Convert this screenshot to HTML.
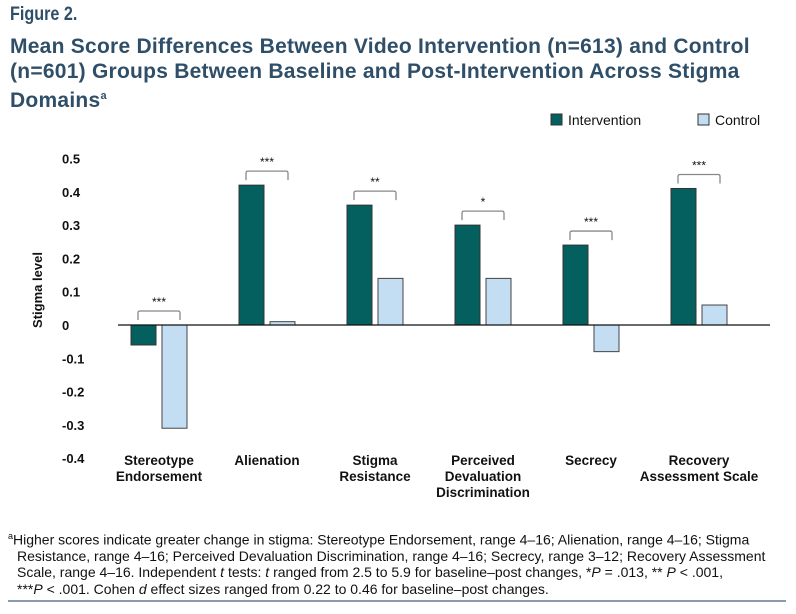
<!DOCTYPE html>
<html><head><meta charset="utf-8">
<style>
body{margin:0;background:#fff;width:796px;height:614px;overflow:hidden;position:relative;font-family:"Liberation Sans",sans-serif}
.fig{position:absolute;left:10px;top:4px;font-family:"Liberation Sans Narrow","Liberation Sans",sans-serif;font-weight:bold;font-size:19px;color:#2f4f69;transform:scaleX(.85);transform-origin:left}
.title{position:absolute;left:10px;top:34px;width:790px;white-space:nowrap;font-weight:bold;font-size:21px;line-height:25px;color:#2f4f69;letter-spacing:.25px}
.title sup{font-size:11px}
.note{position:absolute;left:8px;top:528px;width:900px;font-family:"Liberation Sans Narrow","Liberation Sans",sans-serif;font-size:14px;line-height:16.3px;color:#111;transform:scaleX(1.0);transform-origin:left}
.note div{padding-left:9px}
.rule{position:absolute;left:8px;top:600px;width:778px;height:2px;background:#8a9bb0}
</style></head><body>
<div class="fig">Figure 2.</div>
<div class="title">Mean Score Differences Between Video Intervention (n=613) and Control<br>(n=601) Groups Between Baseline and Post-Intervention Across Stigma<br>Domains<sup>a</sup></div>
<svg id="chart" width="796" height="614" style="position:absolute;left:0;top:0">
<g id="legend">
<rect x="551" y="114" width="11" height="11" fill="#03605f" stroke="#333" stroke-width="1"/>
<text x="568" y="125" font-size="14" fill="#111" font-family="Liberation Sans">Intervention</text>
<rect x="698" y="114" width="11" height="11" fill="#c3def3" stroke="#333" stroke-width="1"/>
<text x="715" y="125" font-size="14" fill="#111" font-family="Liberation Sans">Control</text>
</g>
<text transform="translate(42,290) rotate(-90)" text-anchor="middle" font-size="13" font-weight="bold" fill="#111">Stigma level</text>
</svg>
<div class="note"><sup style="font-size:9px">a</sup>Higher scores indicate greater change in stigma: Stereotype Endorsement, range 4–16; Alienation, range 4–16; Stigma<div>Resistance, range 4–16; Perceived Devaluation Discrimination, range 4–16; Secrecy, range 3–12; Recovery Assessment</div><div>Scale, range 4–16. Independent <i>t</i> tests: <i>t</i> ranged from 2.5 to 5.9 for baseline–post changes, *<i>P</i> = .013, ** <i>P</i> &lt; .001,</div><div>***<i>P</i> &lt; .001. Cohen <i>d</i> effect sizes ranged from 0.22 to 0.46 for baseline–post changes.</div></div>
<div class="rule"></div>
<script>
const categories=[["Stereotype","Endorsement"],["Alienation"],["Stigma","Resistance"],["Perceived","Devaluation","Discrimination"],["Secrecy"],["Recovery","Assessment Scale"]];
const intervention=[-0.06,0.42,0.36,0.30,0.24,0.41];
const control=[-0.31,0.01,0.14,0.14,-0.08,0.06];
const significance=["***","***","**","*","***","***"];
const yTicks=[0.5,0.4,0.3,0.2,0.1,0,-0.1,-0.2,-0.3,-0.4];
const tickLabels=["0.5","0.4","0.3","0.2","0.1","0","-0.1","-0.2","-0.3","-0.4"];
const svg=document.getElementById('chart');
const NS="http://www.w3.org/2000/svg";
function y(v){return 325-v*333;}
function x(i){return 159+i*108;}
function mk(t,a,p){const e=document.createElementNS(NS,t);for(const k in a)e.setAttribute(k,a[k]);(p||svg).appendChild(e);return e;}
yTicks.forEach((v,i)=>{const t=mk('text',{x:62,y:y(v)+5,'font-size':13,'font-weight':'bold',fill:'#111'});t.textContent=tickLabels[i];

});
categories.forEach((c,i)=>{
 const cx=x(i);
 const vi=intervention[i],vc=control[i];
 const b1=mk('rect',{x:cx-28,y:Math.min(y(vi),y(0)),width:25,height:Math.abs(y(vi)-y(0)),fill:'#03605f',stroke:'#333','stroke-width':1});
 
 
 const b2=mk('rect',{x:cx+3,y:Math.min(y(vc),y(0)),width:25,height:Math.abs(y(vc)-y(0)),fill:'#c3def3',stroke:'#444','stroke-width':1});
 
 
 const top=Math.min(y(vi),y(vc),y(0));
 const bb=top-5, bt=bb-9;
 const br=mk('path',{d:`M${cx-21},${bb} V${bt+2} Q${cx-21},${bt} ${cx-19},${bt} H${cx+19} Q${cx+21},${bt} ${cx+21},${bt+2} V${bb}`,fill:'none',stroke:'#888','stroke-width':1.3});
 
 
 const s=mk('text',{x:cx,y:bt-5,'text-anchor':'middle','font-size':12,fill:'#111'});s.textContent=significance[i];
 
 
 c.forEach((ln,j)=>{const t=mk('text',{x:cx,y:465+j*16,'text-anchor':'middle','font-size':13.5,'font-weight':'bold',fill:'#111'});t.textContent=ln;
 
 });
});
const ax=mk('line',{x1:118,x2:770,y1:y(0),y2:y(0),stroke:'#111','stroke-width':1.3});


</script>
</body></html>
